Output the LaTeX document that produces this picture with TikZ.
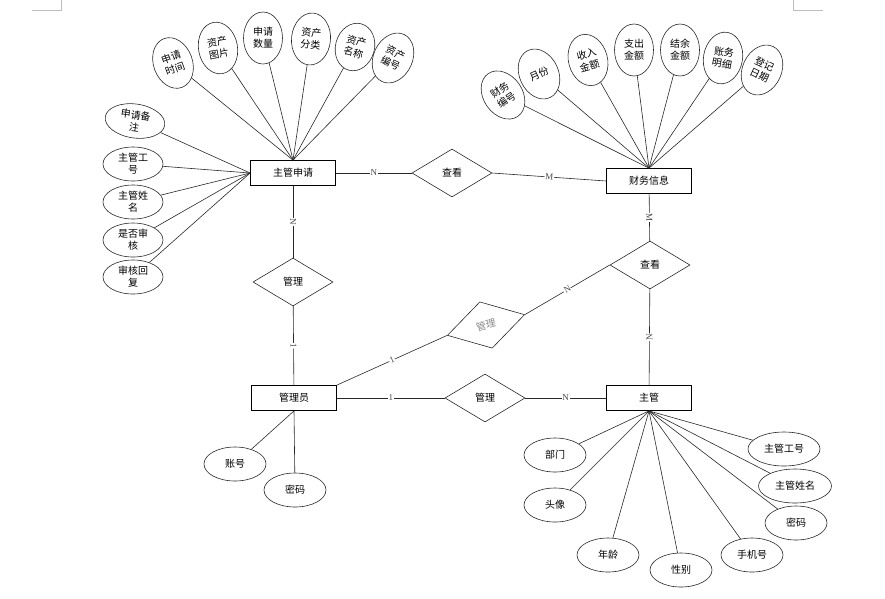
\documentclass[tikz,border=0pt]{standalone}
\usepackage{fontspec}
\setmainfont{Liberation Serif}
\newfontfamily\cjk{Noto Sans CJK SC}
\definecolor{myline}{RGB}{40,40,40}
\definecolor{mygray}{RGB}{190,190,190}
\usetikzlibrary{shapes.geometric,positioning}

\begin{document}
\begin{tikzpicture}[x=1pt,y=-1pt,color=myline,line width=0.6pt,
    every node/.style={font=\cjk\fontsize{10}{12}\selectfont,inner sep=0pt,text=black},
    entity/.style={draw=black,line width=0.8pt,minimum width=85pt,minimum height=25pt},
    rel/.style={draw,diamond,minimum width=80pt,minimum height=48pt},
    attr/.style={draw,ellipse,align=center,minimum width=39pt,minimum height=52pt},
    sattr/.style={draw,ellipse,align=center,minimum width=60pt,minimum height=34pt},
    card/.style={font=\fontsize{9}{10}\selectfont,fill=white,inner sep=0.6pt,text=myline!85,sloped}
    ]
    \useasboundingbox (0,0) rectangle (885,598);
    \draw[mygray] (32,10) -- (61,10) -- (61,0);
    \draw[mygray] (823,10) -- (793,10) -- (793,0);

    % entities
    \node[entity] (sq) at (293,173) {主管申请};
    \node[entity] (cw) at (649,181) {财务信息};
    \node[entity] (gly) at (294,398) {管理员};
    \node[entity] (zg) at (649,398) {主管};

    % relations
    \node[rel] (ck1) at (452,173) {查看};
    \node[rel] (gl1) at (293,282) {管理};
    \node[rel] (ck2) at (650,265) {查看};
    \node[rel,rotate=15,text=myline!55] (gl2) at (486,325) {管理};
    \node[rel] (gl3) at (485,398) {管理};

    % attributes of sq
    \node[attr,rotate=20] (s1) at (173,63) {申请\\时间};
    \node[attr,rotate=10] (s2) at (218,48) {资产\\图片};
    \node[attr] (s3) at (263,38) {申请\\数量};
    \node[attr,rotate=-5] (s4) at (311,39) {资产\\分类};
    \node[attr,rotate=-15,minimum height=48pt] (s5) at (355,47) {资产\\名称};
    \node[attr,rotate=-25] (s6) at (393,58) {资产\\编号};
    \node[sattr,rotate=-8] (s7) at (135,121) {申请备\\注};
    \node[sattr] (s8) at (133,164) {主管工\\号};
    \node[sattr] (s9) at (133,202) {主管姓\\名};
    \node[sattr] (s10) at (133,240) {是否审\\核};
    \node[sattr] (s11) at (133,277) {审核回\\复};

    % attributes of cw
    \node[attr,rotate=35] (c1) at (503,95) {财务\\编号};
    \node[attr,rotate=25] (c2) at (539,74) {月份};
    \node[attr,rotate=15] (c3) at (588,60) {收入\\金额};
    \node[attr] (c4) at (634,50) {支出\\金额};
    \node[attr] (c5) at (680,50) {结余\\金额};
    \node[attr,rotate=-10] (c6) at (723,58) {账务\\明细};
    \node[attr,rotate=-25] (c7) at (762,70) {登记\\日期};

    % attributes of gly
    \node[sattr,minimum width=62pt] (g1) at (235,464) {账号};
    \node[sattr,minimum width=62pt] (g2) at (295,490) {密码};

    % attributes of zg
    \node[sattr,minimum width=62pt] (z1) at (555,455) {部门};
    \node[sattr,minimum width=62pt] (z2) at (555,505) {头像};
    \node[sattr,minimum width=62pt] (z3) at (608,555) {年龄};
    \node[sattr,minimum width=62pt] (z4) at (681,570) {性别};
    \node[sattr,minimum width=62pt] (z5) at (752,555) {手机号};
    \node[sattr,minimum width=62pt] (z6) at (796,523) {密码};
    \node[sattr,minimum width=73pt] (z7) at (795,486) {主管姓名};
    \node[sattr,minimum width=72pt] (z8) at (784,449) {主管工号};

    % the relations
    \draw (sq) -- node[card] {N} (ck1);
    \draw (ck1.east) -- node[card] {M} (cw.west);
    \draw (sq) -- node[card] {N} (gl1);
    \draw (gl1) -- node[card] {1} (gly);
    \draw (gly.north east) -- node[card] {1} (gl2.west);
    \draw (gl2.east) -- node[card] {N} (ck2.west);
    \draw (cw) -- node[card] {M} (ck2);
    \draw (ck2) -- node[card] {N} (zg);
    \draw (gly) -- node[card] {1} (gl3);
    \draw (gl3) -- node[card] {N} (zg);

    % the attribute edges
    \draw (s1) -- (sq.north);
    \draw (s2) -- (sq.north);
    \draw (s3) -- (sq.north);
    \draw (s4) -- (sq.north);
    \draw (s5) -- (sq.north);
    \draw (s6) -- (sq.north);
    \draw (s7) -- (sq.west);
    \draw (s8) -- (sq.west);
    \draw (s9) -- (sq.west);
    \draw (s10) -- (sq.west);
    \draw (s11) -- (sq.west);
    \draw (c1) -- (cw.north);
    \draw (c2) -- (cw.north);
    \draw (c3) -- (cw.north);
    \draw (c4) -- (cw.north);
    \draw (c5) -- (cw.north);
    \draw (c6) -- (cw.north);
    \draw (c7) -- (cw.north);
    \draw (g1) -- (gly.south);
    \draw (g2) -- (gly.south);
    \draw (z1) -- (zg.south);
    \draw (z2) -- (zg.south);
    \draw (z3) -- (zg.south);
    \draw (z4) -- (zg.south);
    \draw (z5) -- (zg.south);
    \draw (z6) -- (zg.south);
    \draw (z7) -- (zg.south);
    \draw (z8) -- (zg.south);
\end{tikzpicture}
\end{document}
